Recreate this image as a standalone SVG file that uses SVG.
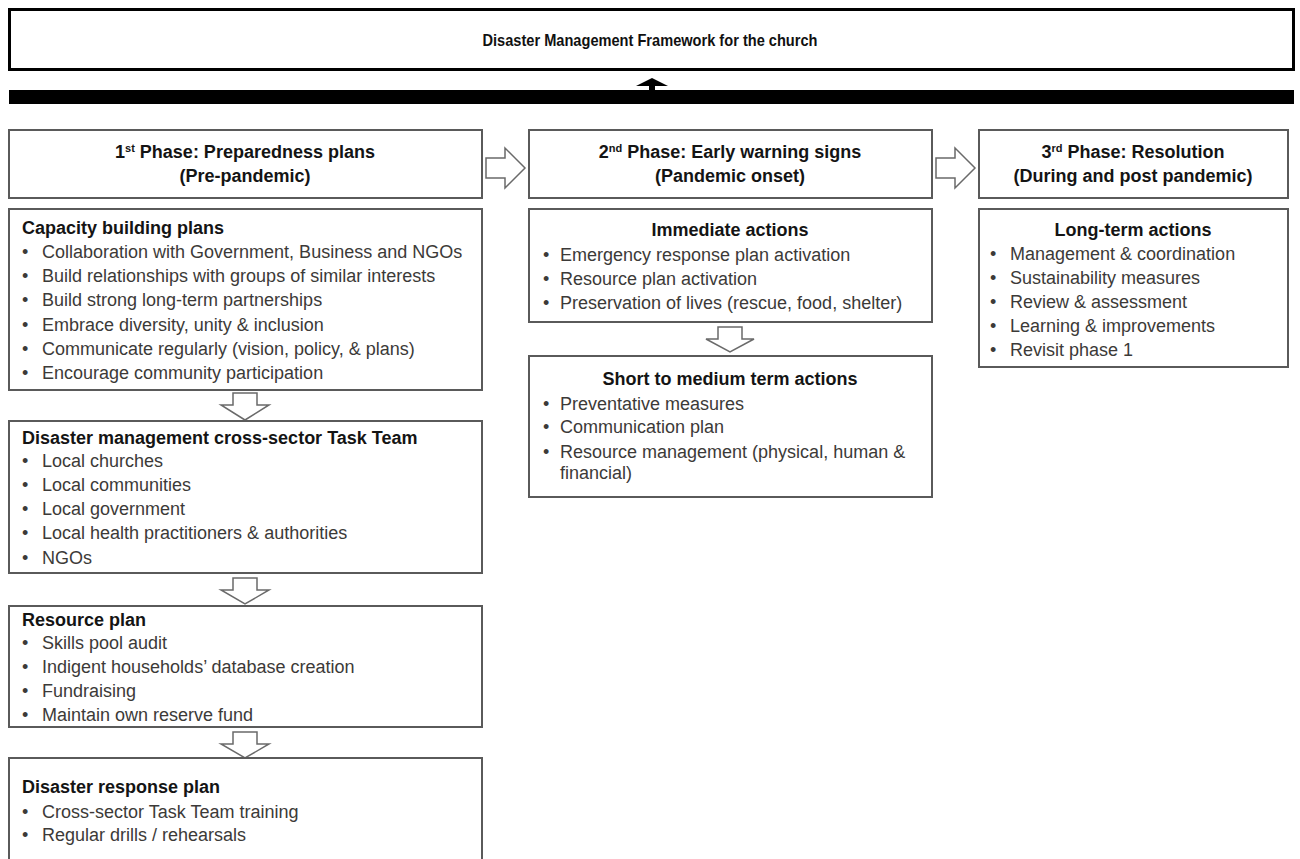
<svg xmlns="http://www.w3.org/2000/svg" width="1300" height="859" viewBox="0 0 1300 859">
  <style>
    .box { fill: #ffffff; stroke: #5a5a5a; stroke-width: 2; }
    .frame { fill: #ffffff; stroke: #000000; stroke-width: 3; }
    .blk { fill: #ffffff; stroke: #6a6a6a; stroke-width: 1.5; stroke-linejoin: miter; }
    .h { font-family: "Liberation Sans", Arial, sans-serif; font-weight: bold; font-size: 18px; fill: #141414; }
    .ph { font-family: "Liberation Sans", Arial, sans-serif; font-weight: bold; font-size: 18px; fill: #141414; text-anchor: middle; }
    .t { font-family: "Liberation Sans", Arial, sans-serif; font-size: 18px; fill: #3c3a38; }
    .title { font-family: "Liberation Sans", Arial, sans-serif; font-weight: bold; font-size: 17px; fill: #111111; text-anchor: middle; }
    .sup { font-size: 11px; }
  </style>

  <!-- header -->
  <g id="title">
    <rect class="frame" x="9.5" y="9.5" width="1284" height="60"/>
    <text class="title" x="650" y="46" textLength="335" lengthAdjust="spacingAndGlyphs">Disaster Management Framework for the church</text>
  </g>

  <g id="base-bar">
    <rect x="9" y="90" width="1285" height="14" fill="#000000"/>
  </g>

  <!-- connectors -->
  <g id="connectors">
    <!-- upward arrow into the header -->
    <polygon points="652,78 668,86 655,86 655,90 649,90 649,86 636,86" fill="#000000"/>
    <!-- phase to phase block arrows -->
    <polygon class="blk" points="486,158 505,158 505,148 525,168 505,188 505,178 486,178"/>
    <polygon class="blk" points="936,158 955,158 955,148 975,168 955,188 955,178 936,178"/>
    <!-- downward block arrows, column 1 -->
    <polygon class="blk" points="233,393 257,393 257,405 269,405 245,420 221,405 233,405"/>
    <polygon class="blk" points="233,578 257,578 257,590 269,590 245,604 221,590 233,590"/>
    <polygon class="blk" points="233,732 257,732 257,744 269,744 245,758 221,744 233,744"/>
    <!-- downward block arrow, column 2 -->
    <polygon class="blk" points="718,327 742,327 742,339 754,339 730,352 706,339 718,339"/>
  </g>

  <!-- phase 1 -->
  <g id="phase1">
    <rect class="box" x="9" y="130" width="473" height="68"/>
    <text class="ph" x="245" y="158">1<tspan class="sup" dy="-6">st</tspan><tspan dy="6"> Phase: Preparedness plans</tspan></text>
    <text class="ph" x="245" y="182">(Pre-pandemic)</text>
  </g>

  <g id="capacity-building">
    <rect class="box" x="9" y="209" width="473" height="181"/>
    <text class="h" x="22" y="234">Capacity building plans</text>
    <text class="t" x="22" y="258">•</text><text class="t" x="42" y="258">Collaboration with Government,  Business and NGOs</text>
    <text class="t" x="22" y="282">•</text><text class="t" x="42" y="282">Build relationships with groups of similar interests</text>
    <text class="t" x="22" y="306">•</text><text class="t" x="42" y="306">Build strong long-term partnerships</text>
    <text class="t" x="22" y="331">•</text><text class="t" x="42" y="331">Embrace diversity, unity &amp; inclusion</text>
    <text class="t" x="22" y="355">•</text><text class="t" x="42" y="355">Communicate regularly (vision, policy, &amp; plans)</text>
    <text class="t" x="22" y="379">•</text><text class="t" x="42" y="379">Encourage community participation</text>
  </g>

  <g id="task-team">
    <rect class="box" x="9" y="421" width="473" height="152"/>
    <text class="h" x="22" y="444">Disaster management cross-sector Task Team</text>
    <text class="t" x="22" y="467">•</text><text class="t" x="42" y="467">Local churches</text>
    <text class="t" x="22" y="491">•</text><text class="t" x="42" y="491">Local communities</text>
    <text class="t" x="22" y="515">•</text><text class="t" x="42" y="515">Local government</text>
    <text class="t" x="22" y="539">•</text><text class="t" x="42" y="539">Local health  practitioners &amp; authorities</text>
    <text class="t" x="22" y="564">•</text><text class="t" x="42" y="564">NGOs</text>
  </g>

  <g id="resource-plan">
    <rect class="box" x="9" y="606" width="473" height="121"/>
    <text class="h" x="22" y="626">Resource plan</text>
    <text class="t" x="22" y="649">•</text><text class="t" x="42" y="649">Skills pool audit</text>
    <text class="t" x="22" y="673">•</text><text class="t" x="42" y="673">Indigent  households’ database creation</text>
    <text class="t" x="22" y="697">•</text><text class="t" x="42" y="697">Fundraising</text>
    <text class="t" x="22" y="721">•</text><text class="t" x="42" y="721">Maintain own reserve fund</text>
  </g>

  <g id="response-plan">
    <rect class="box" x="9" y="758" width="473" height="120"/>
    <text class="h" x="22" y="793">Disaster response plan</text>
    <text class="t" x="22" y="818">•</text><text class="t" x="42" y="818">Cross-sector Task Team training</text>
    <text class="t" x="22" y="841">•</text><text class="t" x="42" y="841">Regular drills / rehearsals</text>
  </g>

  <!-- phase 2 -->
  <g id="phase2">
    <rect class="box" x="529" y="130" width="403" height="68"/>
    <text class="ph" x="730" y="158">2<tspan class="sup" dy="-6">nd</tspan><tspan dy="6"> Phase: Early warning signs</tspan></text>
    <text class="ph" x="730" y="182">(Pandemic onset)</text>
  </g>

  <g id="immediate-actions">
    <rect class="box" x="529" y="209" width="403" height="113"/>
    <text class="ph" x="730" y="236">Immediate actions</text>
    <text class="t" x="543" y="261">•</text><text class="t" x="560" y="261">Emergency response plan activation</text>
    <text class="t" x="543" y="285">•</text><text class="t" x="560" y="285">Resource plan activation</text>
    <text class="t" x="543" y="309">•</text><text class="t" x="560" y="309">Preservation of lives (rescue, food, shelter)</text>
  </g>

  <g id="short-medium-actions">
    <rect class="box" x="529" y="356" width="403" height="141"/>
    <text class="ph" x="730" y="385">Short to medium term actions</text>
    <text class="t" x="543" y="410">•</text><text class="t" x="560" y="410">Preventative  measures</text>
    <text class="t" x="543" y="433">•</text><text class="t" x="560" y="433">Communication plan</text>
    <text class="t" x="543" y="458">•</text><text class="t" x="560" y="458">Resource management (physical, human &amp;</text>
    <text class="t" x="560" y="479">financial)</text>
  </g>

  <!-- phase 3 -->
  <g id="phase3">
    <rect class="box" x="979" y="130" width="309" height="68"/>
    <text class="ph" x="1133" y="158">3<tspan class="sup" dy="-6">rd</tspan><tspan dy="6"> Phase: Resolution</tspan></text>
    <text class="ph" x="1133" y="182">(During and post pandemic)</text>
  </g>

  <g id="long-term-actions">
    <rect class="box" x="979" y="209" width="309" height="158"/>
    <text class="ph" x="1133" y="236">Long-term actions</text>
    <text class="t" x="990" y="260">•</text><text class="t" x="1010" y="260">Management &amp; coordination</text>
    <text class="t" x="990" y="284">•</text><text class="t" x="1010" y="284">Sustainability measures</text>
    <text class="t" x="990" y="308">•</text><text class="t" x="1010" y="308">Review &amp; assessment</text>
    <text class="t" x="990" y="332">•</text><text class="t" x="1010" y="332">Learning &amp; improvements</text>
    <text class="t" x="990" y="356">•</text><text class="t" x="1010" y="356">Revisit phase 1</text>
  </g>
</svg>
